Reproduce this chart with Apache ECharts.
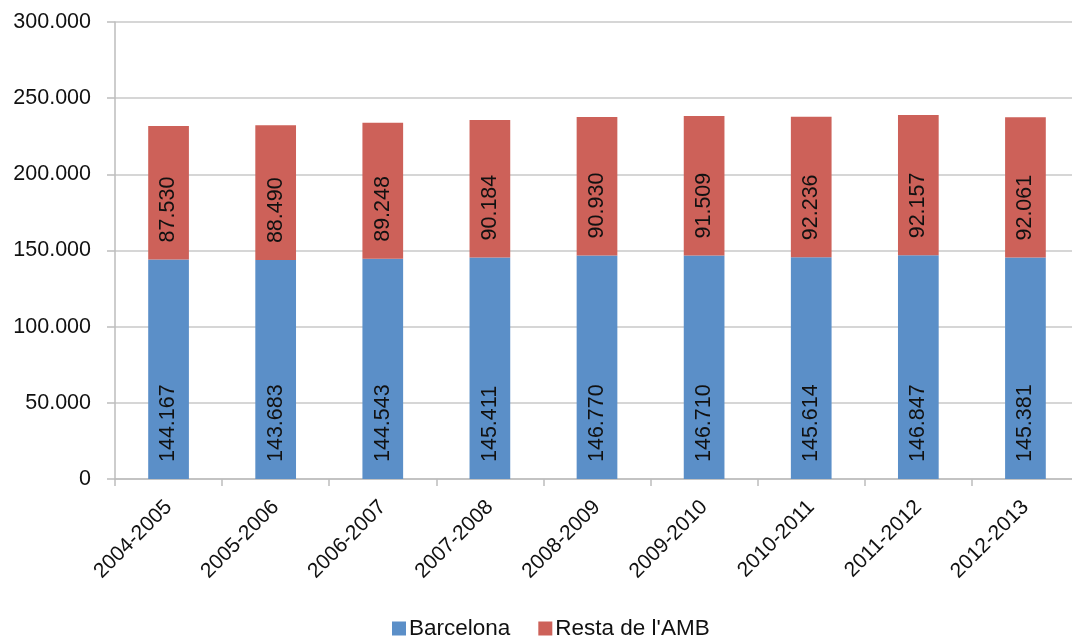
<!DOCTYPE html>
<html><head><meta charset="utf-8">
<script src="https://cdn.jsdelivr.net/npm/echarts@6/dist/echarts.min.js"></script>
<style>html,body{margin:0;padding:0;background:#fff;overflow:hidden}#c{width:1080px;height:643px}</style>
</head><body><div id="c"></div>
<script>
const categories = ['2004-2005','2005-2006','2006-2007','2007-2008','2008-2009','2009-2010','2010-2011','2011-2012','2012-2013'];
const barcelona = [144167,143683,144543,145411,146770,146710,145614,146847,145381];
const restaAMB = [87530,88490,89248,90184,90930,91509,92236,92157,92061];
const seriesNames = ['Barcelona', "Resta de l'AMB"];

const fmt = v => String(v).replace(/\B(?=(\d{3})+(?!\d))/g, '.');
const FONT = 'Liberation Sans';
const TXT = '#111';
const chart = echarts.init(document.getElementById('c'), null, {renderer:'canvas'});
const lbl = {
  show: true, position: 'insideBottom', rotate: 90, align: 'left', verticalAlign: 'middle',
  distance: 17, color: TXT, fontSize: 21.5, fontFamily: FONT, formatter: p => fmt(p.value)
};
chart.setOption({
  animation: false,
  textStyle: {fontFamily: FONT},
  grid: {left: 115, right: 1, top: 22, bottom: 164, containLabel: false},
  legend: {
    data: seriesNames, left: 392, bottom: 3, padding: 0, itemWidth: 14, itemHeight: 14, itemGap: 28,
    icon: 'rect', textStyle: {fontSize: 22.5, color: TXT, fontFamily: FONT, padding: [0,0,0,-2]}
  },
  xAxis: {
    type: 'category', data: categories,
    axisLine: {lineStyle: {color: '#bdbdbd', width: 1.5}},
    axisTick: {show: true, length: 7, lineStyle: {color: '#bdbdbd', width: 1.5}},
    axisLabel: {rotate: 45, margin: 25, fontSize: 21, color: TXT, fontFamily: FONT, interval: 0}
  },
  yAxis: {
    type: 'value', min: 0, max: 300000, interval: 50000,
    axisLine: {show: true, lineStyle: {color: '#bdbdbd', width: 1.5}},
    axisTick: {show: true, length: 8, lineStyle: {color: '#bdbdbd', width: 1.5}},
    splitLine: {lineStyle: {color: '#c8c8c8', width: 1.5}},
    axisLabel: {margin: 24, fontSize: 21.5, color: TXT, fontFamily: FONT, formatter: v => fmt(v)}
  },
  series: [
    {name: seriesNames[0], type: 'bar', stack: 's', data: barcelona, barWidth: '38%',
     itemStyle: {color: '#5b8fc8'}, label: lbl},
    {name: seriesNames[1], type: 'bar', stack: 's', data: restaAMB, barWidth: '38%',
     itemStyle: {color: '#cd6159'}, label: lbl}
  ]
});
</script></body></html>
